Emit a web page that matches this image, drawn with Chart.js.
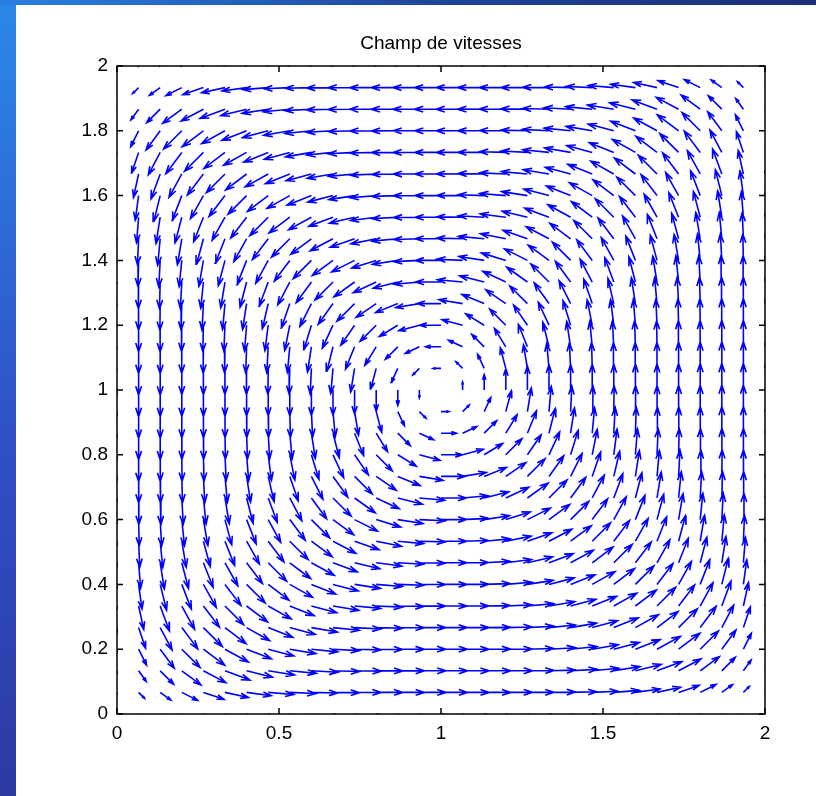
<!DOCTYPE html>
<html>
<head>
<meta charset="utf-8">
<title>Champ de vitesses</title>
<script src="https://cdn.jsdelivr.net/npm/chart.js@4.4.1/dist/chart.umd.min.js"></script>
<style>
  html, body { margin: 0; padding: 0; }
  body {
    width: 816px; height: 796px; overflow: hidden; position: relative;
    background: linear-gradient(to bottom, #2b88e8 0%, #3050c6 55%, #2c3aa2 100%);
  }
  #bandeau {
    position: absolute; left: 0; top: 0; width: 816px; height: 5px;
    background: linear-gradient(to right, #2a7fe0, #1e4496 55%, #1a2f78);
  }
  #cadre { position: absolute; left: 16px; top: 5px; width: 800px; height: 791px; background: #fff; }
</style>
</head>
<body>
<div id="bandeau"></div>
<div id="cadre"><canvas id="champ" width="800" height="791"></canvas></div>
<script>
const titre = 'Champ de vitesses';

// positions de la grille (meme chose en x et en y)
const grille = [0, 0.0667, 0.1333, 0.2, 0.2667, 0.3333, 0.4, 0.4667, 0.5333, 0.6,
    0.6667, 0.7333, 0.8, 0.8667, 0.9333, 1, 1.0667, 1.1333, 1.2, 1.2667,
    1.3333, 1.4, 1.4667, 1.5333, 1.6, 1.6667, 1.7333, 1.8, 1.8667, 1.9333, 2];

// amortissement sur les parois (x=0, x=2, y=0, y=2)
const amortiParoi = [0.05, 1, 1, 1, 1, 1, 1, 1, 1, 1,
    1, 1, 1, 1, 1, 1, 1, 1, 1, 1,
    1, 1, 1, 1, 1, 1, 1, 1, 1, 1, 0.05];

// norme de la vitesse selon la distance au centre (pas de 0.0667)
const vitesseRayon = [0, 0.3, 0.58, 0.8, 0.9, 0.95, 0.96, 0.97, 0.97, 0.98,
    0.98, 0.99, 0.99, 1, 1, 0.88, 0.52, 0.2, 0.1];

// forme des lignes de courant : ronde au centre, carree pres des parois
const exposant = [2, 2, 2.1, 2.2, 2.3, 2.5, 2.7, 2.9, 3.1, 3.3,
    3.6, 3.9, 4.3, 4.8, 5.5, 6];

const ticksX = [0, 0.5, 1, 1.5, 2];
const ticksY = [0, 0.2, 0.4, 0.6, 0.8, 1, 1.2, 1.4, 1.6, 1.8, 2];

const pas = grille[1] - grille[0];

function lireVitesse(r) {
    const k = r / pas;
    const i = Math.floor(k);
    if (i >= vitesseRayon.length - 1) return vitesseRayon[vitesseRayon.length - 1];
    return vitesseRayon[i] + (k - i) * (vitesseRayon[i + 1] - vitesseRayon[i]);
}

// vecteurs vitesse (rotation sens trigo autour de (1,1))
const vecteurs = [];
for (let j = 0; j < grille.length; j++) {
    for (let i = 0; i < grille.length; i++) {
        const dx = grille[i] - 1, dy = grille[j] - 1;
        const m = Math.max(Math.abs(dx), Math.abs(dy));
        const p = exposant[Math.min(exposant.length - 1, Math.round(m / pas))];
        const gx = Math.sign(dx) * Math.pow(Math.abs(dx), p - 1);
        const gy = Math.sign(dy) * Math.pow(Math.abs(dy), p - 1);
        const g = Math.hypot(gx, gy);
        const rho = Math.pow(Math.pow(dx, 4) + Math.pow(dy, 4), 0.25);
        const a = lireVitesse(rho) * amortiParoi[i] * amortiParoi[j];
        vecteurs.push({
            x: grille[i],
            y: grille[j],
            u: g > 0 ? -gy / g * a : 0,
            v: g > 0 ? gx / g * a : 0
        });
    }
}

// mise a l'echelle automatique facon quiver
const n = grille.length;
const del = 2 * Math.pow((grille[n - 1] - grille[0]) / n, 2);
let maxLen = 0;
vecteurs.forEach(f => {
    maxLen = Math.max(maxLen, Math.sqrt((f.u * f.u + f.v * f.v) / del));
});
const echelle = 0.9 / maxLen;
const alpha = 0.33, beta = 0.33;

// tige + pointe, separees par des trous (y: null)
const points = [];
vecteurs.forEach(f => {
    const u = f.u * echelle, v = f.v * echelle;
    const tx = f.x + u, ty = f.y + v;
    points.push({x: f.x, y: f.y}, {x: tx, y: ty}, {x: tx, y: null});
    points.push(
        {x: tx - alpha * (u + beta * v), y: ty - alpha * (v - beta * u)},
        {x: tx, y: ty},
        {x: tx - alpha * (u - beta * v), y: ty - alpha * (v + beta * u)},
        {x: tx, y: null}
    );
});

// cadre noir + graduations vers l'interieur sur les 4 cotes
const cadrePlugin = {
    id: 'cadrePlugin',
    afterDraw(chart) {
        const {ctx, chartArea: a} = chart;
        const sx = chart.scales.x, sy = chart.scales.y;
        ctx.save();
        ctx.strokeStyle = '#000';
        ctx.lineWidth = 1.5;
        ctx.strokeRect(a.left, a.top, a.right - a.left, a.bottom - a.top);
        ctx.beginPath();
        ticksX.forEach(t => {
            const px = sx.getPixelForValue(t);
            ctx.moveTo(px, a.bottom); ctx.lineTo(px, a.bottom - 6);
            ctx.moveTo(px, a.top); ctx.lineTo(px, a.top + 6);
        });
        ticksY.forEach(t => {
            const py = sy.getPixelForValue(t);
            ctx.moveTo(a.left, py); ctx.lineTo(a.left + 6, py);
            ctx.moveTo(a.right, py); ctx.lineTo(a.right - 6, py);
        });
        ctx.stroke();
        ctx.restore();
    }
};

Chart.defaults.font.family = "'Liberation Sans', Arial, sans-serif";
Chart.defaults.color = '#000';

const ctx = document.getElementById('champ').getContext('2d');

new Chart(ctx, {
    type: 'scatter',
    data: {
        datasets: [{
            data: points,
            showLine: true,
            spanGaps: false,
            borderColor: '#0000ff',
            borderWidth: 1.6,
            pointRadius: 0,
            pointHoverRadius: 0,
            tension: 0
        }]
    },
    options: {
        responsive: false,
        animation: false,
        devicePixelRatio: 1,
        events: [],
        layout: { padding: { top: 0, right: 51, bottom: 0, left: 0 } },
        plugins: {
            legend: { display: false },
            tooltip: { enabled: false },
            title: {
                display: true,
                text: titre,
                fullSize: false,
                color: '#000',
                font: { size: 19, weight: 'normal' },
                padding: { top: 27, bottom: 11.2 }
            }
        },
        scales: {
            x: {
                type: 'linear',
                min: 0,
                max: 2,
                afterBuildTicks: s => { s.ticks = ticksX.map(v => ({value: v})); },
                afterFit: s => { s.height = 82; },
                grid: { display: false, drawTicks: false },
                border: { display: false },
                ticks: {
                    padding: 8,
                    maxRotation: 0,
                    autoSkip: false,
                    font: { size: 19 },
                    callback: v => String(v)
                }
            },
            y: {
                type: 'linear',
                min: 0,
                max: 2,
                afterBuildTicks: s => { s.ticks = ticksY.map(v => ({value: v})); },
                afterFit: s => { s.width = 101; },
                grid: { display: false, drawTicks: false },
                border: { display: false },
                ticks: {
                    padding: 9,
                    autoSkip: false,
                    font: { size: 19 },
                    callback: v => String(v)
                }
            }
        }
    },
    plugins: [cadrePlugin]
});
</script>
</body>
</html>
